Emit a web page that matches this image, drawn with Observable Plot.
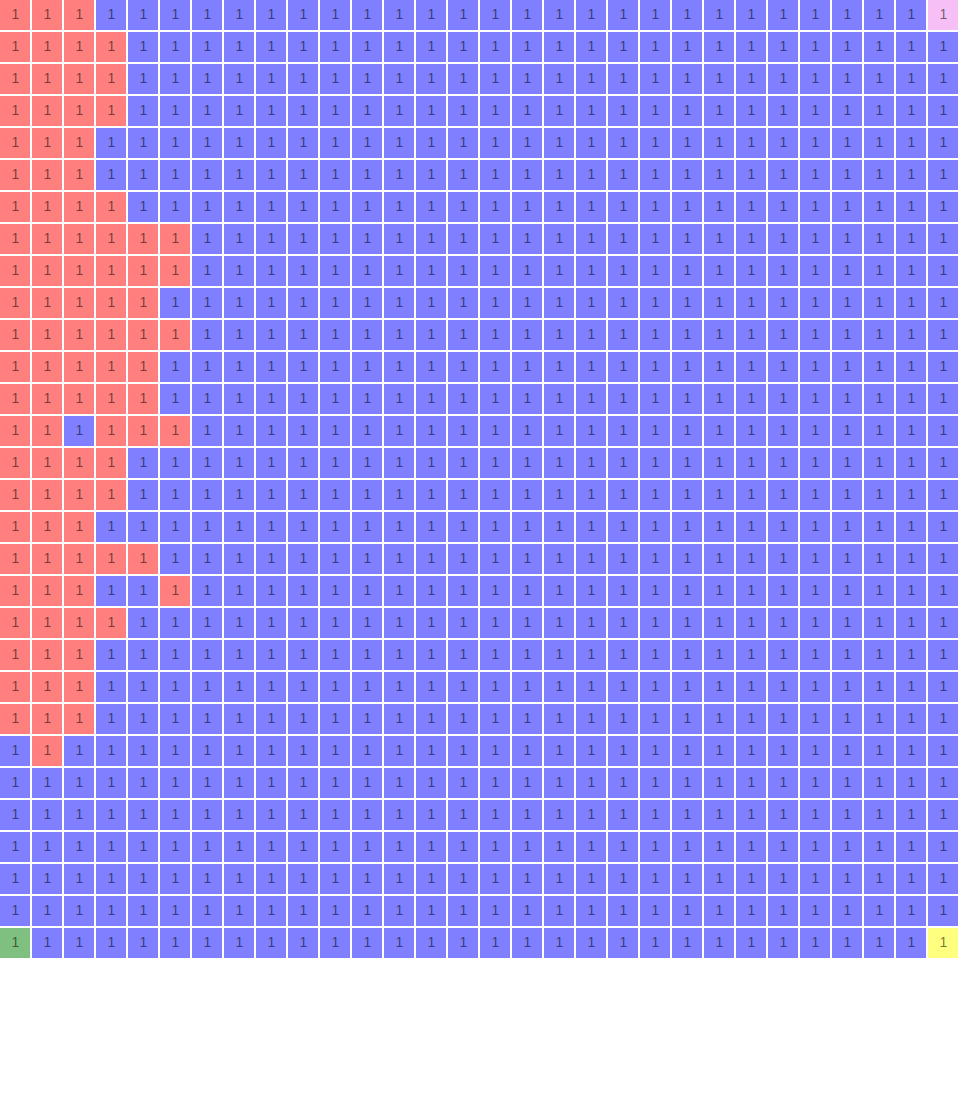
<!DOCTYPE html>
<html>
<head>
<meta charset="utf-8">
<script src="https://cdn.jsdelivr.net/npm/d3@7"></script>
<script src="https://cdn.jsdelivr.net/npm/@observablehq/plot@0.6"></script>
<style>
  html, body { margin: 0; padding: 0; background: #fff; }
  #chart svg { display: block; }
  #chart svg text { font-family: Arial, "Liberation Sans", Helvetica, sans-serif !important; }
</style>
</head>
<body>
<div id="chart"></div>
<script>
// Category of each cell, one string per row (R=red, B=blue, V=violet, G=green, Y=yellow)
const rowCategories = [
  "RRRBBBBBBBBBBBBBBBBBBBBBBBBBBV",
  "RRRRBBBBBBBBBBBBBBBBBBBBBBBBBB",
  "RRRRBBBBBBBBBBBBBBBBBBBBBBBBBB",
  "RRRRBBBBBBBBBBBBBBBBBBBBBBBBBB",
  "RRRBBBBBBBBBBBBBBBBBBBBBBBBBBB",
  "RRRBBBBBBBBBBBBBBBBBBBBBBBBBBB",
  "RRRRBBBBBBBBBBBBBBBBBBBBBBBBBB",
  "RRRRRRBBBBBBBBBBBBBBBBBBBBBBBB",
  "RRRRRRBBBBBBBBBBBBBBBBBBBBBBBB",
  "RRRRRBBBBBBBBBBBBBBBBBBBBBBBBB",
  "RRRRRRBBBBBBBBBBBBBBBBBBBBBBBB",
  "RRRRRBBBBBBBBBBBBBBBBBBBBBBBBB",
  "RRRRRBBBBBBBBBBBBBBBBBBBBBBBBB",
  "RRBRRRBBBBBBBBBBBBBBBBBBBBBBBB",
  "RRRRBBBBBBBBBBBBBBBBBBBBBBBBBB",
  "RRRRBBBBBBBBBBBBBBBBBBBBBBBBBB",
  "RRRBBBBBBBBBBBBBBBBBBBBBBBBBBB",
  "RRRRRBBBBBBBBBBBBBBBBBBBBBBBBB",
  "RRRBBRBBBBBBBBBBBBBBBBBBBBBBBB",
  "RRRRBBBBBBBBBBBBBBBBBBBBBBBBBB",
  "RRRBBBBBBBBBBBBBBBBBBBBBBBBBBB",
  "RRRBBBBBBBBBBBBBBBBBBBBBBBBBBB",
  "RRRBBBBBBBBBBBBBBBBBBBBBBBBBBB",
  "BRBBBBBBBBBBBBBBBBBBBBBBBBBBBB",
  "BBBBBBBBBBBBBBBBBBBBBBBBBBBBBB",
  "BBBBBBBBBBBBBBBBBBBBBBBBBBBBBB",
  "BBBBBBBBBBBBBBBBBBBBBBBBBBBBBB",
  "BBBBBBBBBBBBBBBBBBBBBBBBBBBBBB",
  "BBBBBBBBBBBBBBBBBBBBBBBBBBBBBB",
  "GBBBBBBBBBBBBBBBBBBBBBBBBBBBBY"
];
// Value shown in each cell, one string per row
const rowValues = Array.from({length: 30}, () => "111111111111111111111111111111");
const categoryKeys = ["R", "B", "V", "G", "Y"];
const categoryColors = ["red", "blue", "violet", "green", "yellow"];

const cells = [];
rowCategories.forEach((row, r) => {
  [...row].forEach((c, col) => {
    cells.push({row: r, col, cat: c, value: rowValues[r][col]});
  });
});

const chart = Plot.plot({
  width: 960,
  height: 960,
  margin: 0,
  x: {type: "band", domain: d3.range(30), padding: 0, axis: null},
  y: {type: "band", domain: d3.range(30), padding: 0, axis: null},
  color: {type: "ordinal", domain: categoryKeys, range: categoryColors},
  marks: [
    Plot.cell(cells, {x: "col", y: "row", fill: "cat", fillOpacity: 0.5, insetRight: 2, insetBottom: 2}),
    Plot.text(cells, {x: "col", y: "row", text: "value", dx: -1, dy: -1.5, fill: "black", fillOpacity: 0.55, fontSize: 14})
  ]
});
document.getElementById("chart").appendChild(chart);
</script>
</body>
</html>
